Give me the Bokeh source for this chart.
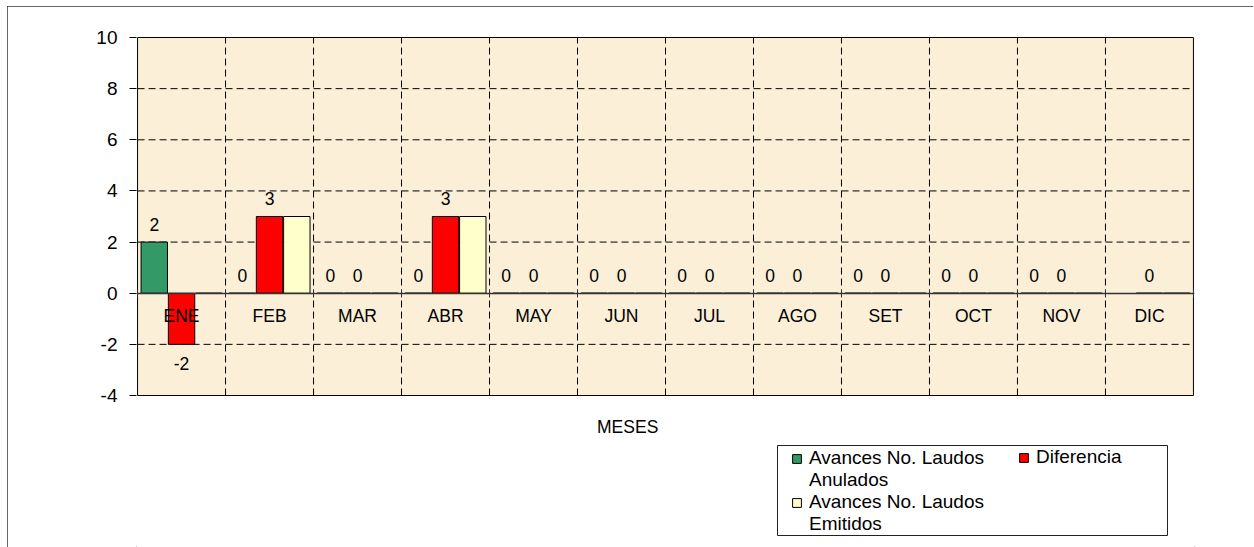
import numpy as np
from bokeh.plotting import figure
from bokeh.models import (ColumnDataSource, Range1d, LinearAxis, FixedTicker, Legend,
                          LegendItem, Label, BoxAnnotation)
from bokeh.embed import file_html
from bokeh.resources import INLINE

meses = ["ENE", "FEB", "MAR", "ABR", "MAY", "JUN", "JUL", "AGO", "SET", "OCT", "NOV", "DIC"]
anulados = [2, 0, 0, 0, 0, 0, 0, 0, 0, 0, 0, None]
diferencia = [-2, 3, 0, 3, 0, 0, 0, 0, 0, 0, 0, 0]
emitidos = [0, 3, 0, 3, 0, 0, 0, 0, 0, 0, 0, 0]
series_names = [["Avances No. Laudos", "Anulados"], ["Diferencia"], ["Avances No. Laudos", "Emitidos"]]
series_colors = ["#339966", "#FF0000", "#FFFFCC"]
series_labeled = [True, True, False]
y_ticks = [-4, -2, 0, 2, 4, 6, 8, 10]
x_title = "MESES"

FONT = "Liberation Sans"
FS = "17.5px"
LFS = "19px"
n = len(meses)

# layout (pixels)
PX_PER_UNIT = 358 / (y_ticks[-1] - y_ticks[0])
FRAME_H = 511
y_top = y_ticks[-1] + 1 / PX_PER_UNIT
y_bot = y_top - FRAME_H / PX_PER_UNIT

p = figure(frame_width=1058, frame_height=FRAME_H, output_backend="svg", toolbar_location=None,
           x_range=Range1d(-0.012, n + 0.012), y_range=Range1d(y_bot, y_top),
           x_axis_location=None,
           min_border_left=129, min_border_right=59, min_border_top=30, min_border_bottom=0)
p.background_fill_color = "white"
p.border_fill_color = "white"
p.outline_line_color = None
p.styles = {"outline": "1px solid #333333", "outline-offset": "-1px",
            "margin-left": "7px", "margin-top": "6px"}
p.xgrid.visible = False
p.ygrid.visible = False

# plot area
p.quad(left=0, right=n, bottom=y_ticks[0], top=y_ticks[-1],
       fill_color="#FBEFD8", line_color="black", line_width=1)

# dashed grid lines
gy = [t for t in y_ticks if t not in (0, y_ticks[0], y_ticks[-1])]
p.segment(x0=[0] * len(gy), x1=[n] * len(gy), y0=gy, y1=gy,
          line_color="black", line_dash="7 4", line_width=1)
gx = list(range(1, n))
p.segment(x0=gx, x1=gx, y0=[y_ticks[0]] * len(gx), y1=[y_ticks[-1]] * len(gx),
          line_color="black", line_dash="7 4", line_width=1)

# y axis
p.yaxis.ticker = FixedTicker(ticks=y_ticks)
p.yaxis.major_label_overrides = {t: str(t) for t in y_ticks}
p.yaxis.minor_tick_line_color = None
p.yaxis.major_tick_in = 0
p.yaxis.major_tick_out = 7
p.yaxis.major_tick_line_color = "black"
p.yaxis.major_label_standoff = 12
p.yaxis.axis_line_color = None
p.yaxis.major_label_text_font = FONT
p.yaxis.major_label_text_font_size = "19px"
p.yaxis.major_label_text_color = "black"

# bars
base = np.arange(n) + 0.5
offsets = [-0.31, 0.0, 0.31]
all_vals = [anulados, diferencia, emitidos]
renderers = []
for vals, col, off in zip(all_vals, series_colors, offsets):
    v = np.array([np.nan if x is None else x for x in vals], dtype=float)
    src = ColumnDataSource(dict(x=base + off, top=v))
    r = p.vbar(x="x", top="top", bottom=0, width=0.3, source=src,
               fill_color=col, line_color="black", line_width=1)
    renderers.append(r)

# zero-line axis with cross ticks at category boundaries
ax0 = LinearAxis(fixed_location=0, ticker=FixedTicker(ticks=list(range(n + 1))),
                 major_tick_in=4, major_tick_out=4, minor_tick_line_color=None,
                 major_label_overrides={i: "" for i in range(n + 1)},
                 axis_line_color="#333333", axis_line_width=1.6,
                 major_tick_line_color="#333333")
p.add_layout(ax0, "below")
ax1 = LinearAxis(fixed_location=0, ticker=FixedTicker(ticks=list(base)),
                 major_label_overrides={float(b): m for b, m in zip(base, meses)},
                 major_tick_line_color=None, major_tick_out=0, major_tick_in=0,
                 minor_tick_line_color=None, axis_line_color=None,
                 major_label_standoff=13, major_label_text_font=FONT,
                 major_label_text_font_size=FS, major_label_text_color="black")
p.add_layout(ax1, "below")

# data labels
for vals, off, lab in zip(all_vals, offsets, series_labeled):
    if not lab:
        continue
    xs, ys, ts, yo = [], [], [], []
    for i, x in enumerate(vals):
        if x is None:
            continue
        xs.append(base[i] + off)
        ys.append(x)
        ts.append(str(int(x)))
        yo.append(19 if x < 0 else -18)
    src = ColumnDataSource(dict(x=xs, y=ys, t=ts, yo=yo))
    p.text(x="x", y="y", text="t", y_offset="yo", source=src,
           text_align="center", text_baseline="middle",
           text_font={"value": FONT}, text_font_size={"value": FS}, text_color="black")

# x title
p.add_layout(Label(x=5.57, y=y_ticks[0], y_offset=-31, text=x_title, text_align="center",
                   text_baseline="middle", text_font=FONT, text_font_size=FS,
                   text_color="black"))

# legend frame (canvas pixels)
p.add_layout(BoxAnnotation(left=770, right=1160, top=439, bottom=529,
                           left_units="canvas", right_units="canvas",
                           top_units="canvas", bottom_units="canvas",
                           fill_color="white", fill_alpha=1,
                           line_color="#222222", line_alpha=1, line_width=1,
                           level="annotation"))

ROW_H = 21
common = dict(label_text_font=FONT, label_text_font_size=LFS, label_text_color="black",
              glyph_width=11, glyph_height=11, label_standoff=7, label_height=ROW_H,
              spacing=0, padding=0, margin=0, border_line_color=None,
              background_fill_alpha=0)

def series_legend(i, loc):
    items = [LegendItem(label=line, renderers=[renderers[i]] if j == 0 else [])
             for j, line in enumerate(series_names[i])]
    return Legend(items=items, location=loc, **common)

p.add_layout(series_legend(0, (655, 56)))
p.add_layout(series_legend(2, (655, 12)))
p.add_layout(series_legend(1, (882, 79)))

open("out.html", "w").write(file_html(p, INLINE))
